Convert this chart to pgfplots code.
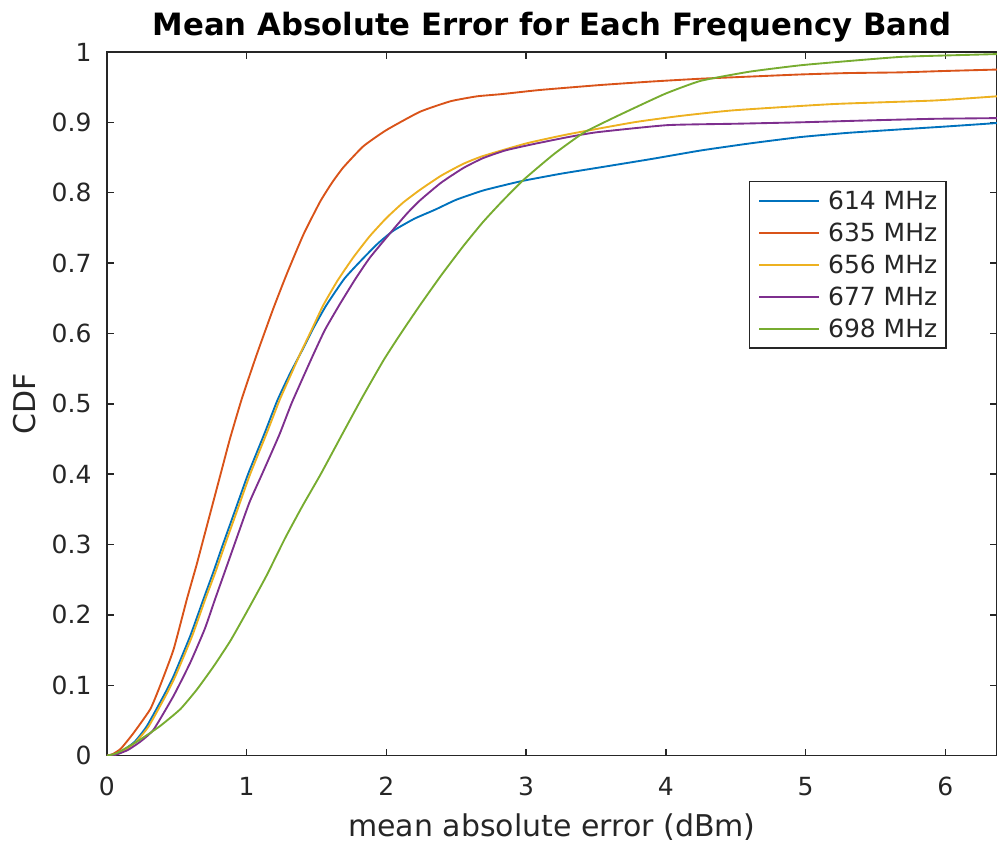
\documentclass[border=0pt]{standalone}
\usepackage{fontspec}
\setmainfont{DejaVu Sans}
\usepackage{pgfplots}
\pgfplotsset{compat=1.18}
\definecolor{c1}{rgb}{0,0.447,0.741}
\definecolor{c2}{rgb}{0.85,0.325,0.098}
\definecolor{c3}{rgb}{0.929,0.694,0.125}
\definecolor{c4}{rgb}{0.494,0.184,0.556}
\definecolor{c5}{rgb}{0.466,0.674,0.188}
\definecolor{axgray}{rgb}{0.15,0.15,0.15}
\begin{document}
\begin{tikzpicture}
\useasboundingbox (-42.8pt,-34.4pt) rectangle (356.2pt,302.4pt);
\begin{axis}[
  scale only axis, width=356.2pt, height=281.6pt,
  at={(0,0)}, anchor=south west,
  xmin=0, xmax=6.37, ymin=0, ymax=1,
  xtick={0,1,2,3,4,5,6},
  ytick={0,0.1,0.2,0.3,0.4,0.5,0.6,0.7,0.8,0.9,1},
  tick align=inside, major tick length=2.8pt,
  axis line style={axgray, line width=0.6pt},
  every tick/.style={axgray, line width=0.6pt},
  /pgf/number format/assume math mode=true,
  tick label style={font=\fontsize{10}{12}\selectfont, text=axgray},
  xticklabel style={anchor=north, inner sep=0pt, yshift=-8.4pt},
  yticklabel style={anchor=east, inner sep=0pt, xshift=-6pt},
  title={Mean Absolute Error for Each Frequency Band},
  title style={font=\fontsize{12.3}{14}\selectfont\bfseries, at={(axis description cs:0.5,1.0014)}, anchor=base, inner sep=0pt},
  xlabel={mean absolute error (dBm)},
  xlabel style={font=\fontsize{12}{14}\selectfont, text=axgray, at={(axis description cs:0.5,-0.1151)}, anchor=base, inner sep=0pt},
  ylabel={CDF},
  ylabel style={font=\fontsize{12}{14}\selectfont, text=axgray, at={(axis description cs:-0.0926,0.5)}, anchor=center, inner sep=0pt},
  legend cell align=left,
  legend image code/.code={\draw[#1] (0pt,0pt) -- (24pt,0pt);},
  legend style={at={(axis description cs:0.9438,0.8168)}, anchor=north east,
    draw=axgray, line width=0.6pt, fill=white,
    font=\fontsize{10}{12}\selectfont, text=axgray,
    inner xsep=3.6pt, inner ysep=4pt, row sep=5.5pt,
    nodes={inner sep=0pt, text height=7.3pt, text depth=0pt},
    /tikz/column sep=3.2pt},
  every axis plot/.append style={line width=0.75pt, smooth, tension=0.3},
]
\addplot[c1] coordinates {
(0,0) (0.05,0.002) (0.12,0.008) (0.2,0.02) (0.286,0.042) (0.406,0.085) (0.477,0.113) (0.596,0.17) (0.692,0.223) (0.76,0.26) (0.83,0.3) (0.92,0.35) (1.01,0.4) (1.13,0.459) (1.22,0.505) (1.31,0.543) (1.40,0.577) (1.476,0.607) (1.57,0.64) (1.70,0.678) (1.835,0.707) (1.94,0.728) (2.05,0.746) (2.2,0.763) (2.35,0.776) (2.5,0.79) (2.69,0.803) (2.85,0.811) (2.98,0.817) (3.25,0.827) (3.53,0.836) (3.9,0.848) (4.25,0.86) (4.6,0.87) (4.96,0.879) (5.3,0.885) (5.68,0.89) (6.0,0.894) (6.37,0.899)
};
\addlegendentry{614 MHz}
\addplot[c2] coordinates {
(0,0) (0.04,0.002) (0.1,0.01) (0.19,0.032) (0.31,0.066) (0.38,0.099) (0.477,0.151) (0.573,0.223) (0.64,0.27) (0.70,0.315) (0.76,0.36) (0.82,0.405) (0.88,0.45) (0.965,0.507) (1.072,0.57) (1.19,0.635) (1.286,0.684) (1.405,0.74) (1.525,0.787) (1.61,0.814) (1.692,0.836) (1.835,0.866) (2.0,0.889) (2.24,0.915) (2.46,0.93) (2.65,0.937) (2.82,0.94) (3.1,0.946) (3.53,0.953) (3.9,0.958) (4.25,0.962) (4.6,0.965) (4.96,0.968) (5.3,0.970) (5.68,0.971) (6.0,0.973) (6.37,0.975)
};
\addlegendentry{635 MHz}
\addplot[c3] coordinates {
(0,0) (0.05,0.0015) (0.13,0.008) (0.21,0.02) (0.30,0.042) (0.42,0.085) (0.49,0.113) (0.61,0.17) (0.705,0.223) (0.775,0.26) (0.845,0.3) (0.935,0.35) (1.025,0.4) (1.145,0.459) (1.235,0.505) (1.32,0.543) (1.385,0.572) (1.46,0.603) (1.548,0.64) (1.65,0.675) (1.763,0.708) (1.88,0.738) (2.0,0.764) (2.12,0.786) (2.24,0.804) (2.39,0.824) (2.55,0.841) (2.69,0.852) (3.0,0.870) (3.30,0.883) (3.77,0.90) (4.1,0.909) (4.48,0.917) (5.2,0.926) (5.92,0.931) (6.37,0.937)
};
\addlegendentry{656 MHz}
\addplot[c4] coordinates {
(0,0) (0.06,0.001) (0.15,0.008) (0.24,0.02) (0.334,0.037) (0.477,0.085) (0.596,0.132) (0.70,0.18) (0.775,0.223) (0.85,0.265) (0.93,0.31) (1.02,0.36) (1.11,0.40) (1.19,0.436) (1.24,0.459) (1.32,0.5) (1.40,0.536) (1.477,0.57) (1.56,0.605) (1.668,0.642) (1.78,0.678) (1.883,0.708) (2.05,0.748) (2.15,0.771) (2.24,0.789) (2.39,0.814) (2.55,0.835) (2.69,0.849) (2.85,0.86) (3.05,0.869) (3.30,0.879) (3.51,0.886) (4.01,0.896) (4.5,0.898) (4.96,0.90) (5.5,0.903) (5.92,0.905) (6.37,0.906)
};
\addlegendentry{677 MHz}
\addplot[c5] coordinates {
(0,0) (0.05,0.002) (0.095,0.006) (0.24,0.023) (0.38,0.042) (0.525,0.066) (0.644,0.094) (0.764,0.127) (0.883,0.163) (1.0,0.204) (1.14,0.255) (1.275,0.309) (1.40,0.355) (1.53,0.4) (1.69,0.459) (1.83,0.51) (1.98,0.562) (2.10,0.599) (2.24,0.64) (2.39,0.682) (2.55,0.724) (2.69,0.758) (2.82,0.786) (2.98,0.818) (3.2,0.855) (3.41,0.885) (3.6,0.904) (3.77,0.92) (4.0,0.941) (4.25,0.959) (4.6,0.972) (4.96,0.981) (5.3,0.987) (5.68,0.993) (6.0,0.995) (6.37,0.997)
};
\addlegendentry{698 MHz}
\end{axis}
\end{tikzpicture}
\end{document}
